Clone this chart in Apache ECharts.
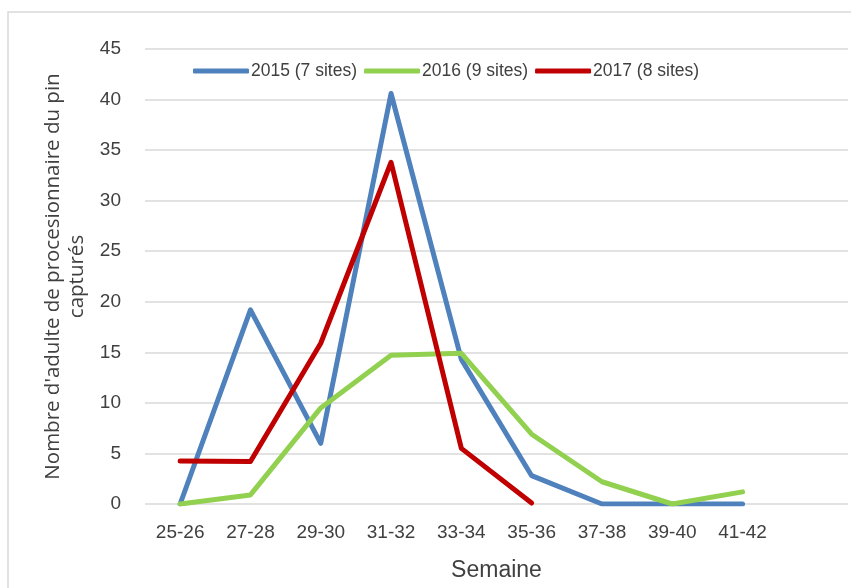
<!DOCTYPE html>
<html>
<head>
<meta charset="utf-8">
<script src="https://cdn.jsdelivr.net/npm/echarts@6/dist/echarts.min.js"></script>
<style>html,body{margin:0;padding:0;background:#fff}#c{width:851px;height:588px}</style>
</head>
<body>
<div id="c"></div>
<script>
var categories = ['25-26','27-28','29-30','31-32','33-34','35-36','37-38','39-40','41-42',''];
var s2015 = [0, 19.2, 6.0, 40.6, 14.3, 2.8, 0, 0, 0, null];
var s2016 = [0, 0.9, 9.5, 14.7, 14.9, 6.9, 2.2, 0, 1.2, null];
var s2017 = [4.25, 4.2, 15.9, 33.8, 5.5, 0.1, null, null, null, null];
var yTicks = {min: 0, max: 45, interval: 5};
var seriesNames = ['2015 (7 sites)', '2016 (9 sites)', '2017 (8 sites)'];

var tickFont = "'Liberation Sans', Arial, sans-serif";
var chart = echarts.init(document.getElementById('c'));
function mk(name, data, color) {
  return {
    name: name, type: 'line', data: data, symbol: 'none', smooth: false,
    connectNulls: false,
    lineStyle: {color: color, width: 5, cap: 'round', join: 'round'},
    itemStyle: {color: color}
  };
}
chart.setOption({
  animation: false,
  backgroundColor: '#fff',
  graphic: [{
    type: 'rect', silent: true,
    shape: {x: 8, y: 12, width: 860, height: 600},
    style: {fill: 'none', stroke: '#d9d9d9', lineWidth: 1.5}
  }],
  grid: {left: 145, right: 3, top: 49, bottom: 84, containLabel: false, outerBoundsMode: 'none'},
  legend: {
    left: 188, top: 57,
    icon: 'roundRect', itemWidth: 56, itemHeight: 5, itemGap: 7,
    textStyle: {fontFamily: tickFont, fontSize: 17.5, color: '#404040', padding: [0,0,0,-3]},
    data: seriesNames
  },
  xAxis: {
    type: 'category', data: categories, boundaryGap: true,
    name: 'Semaine', nameLocation: 'middle', nameGap: 55,
    nameTextStyle: {fontFamily: tickFont, fontSize: 23, color: '#404040'},
    axisLine: {show: false}, axisTick: {show: false},
    axisLabel: {fontFamily: tickFont, fontSize: 19, color: '#404040', margin: 19, interval: 0}
  },
  yAxis: {
    type: 'value', min: yTicks.min, max: yTicks.max, interval: yTicks.interval,
    name: "Nombre d'adulte de procesionnaire du pin\ncapturés",
    nameLocation: 'middle', nameGap: 44, nameRotate: 90,
    nameTextStyle: {fontFamily: "'Open Sans', sans-serif", fontSize: 20.5, color: '#404040', lineHeight: 24, align: 'center'},
    axisLine: {show: false}, axisTick: {show: false},
    axisLabel: {fontFamily: tickFont, fontSize: 19, color: '#404040', margin: 24},
    splitLine: {lineStyle: {color: '#d9d9d9', width: 1.5}}
  },
  series: [
    mk(seriesNames[0], s2015, '#4f81bd'),
    mk(seriesNames[1], s2016, '#92d050'),
    mk(seriesNames[2], s2017, '#c00000')
  ]
});
</script>
</body>
</html>
